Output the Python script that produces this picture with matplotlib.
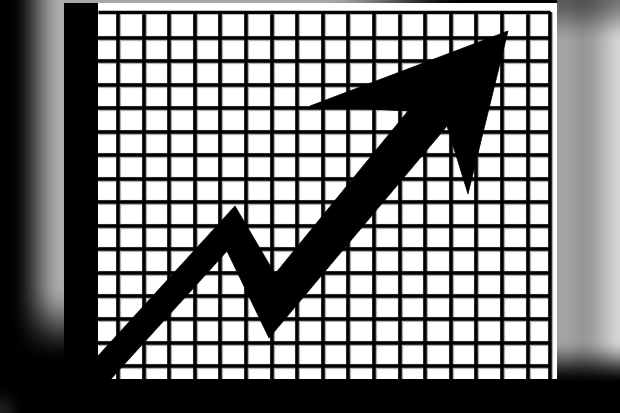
import numpy as np
import matplotlib
matplotlib.use("Agg")
import matplotlib.pyplot as plt
from matplotlib.patches import Rectangle, Polygon

# ---- data (pixel space, y downward) ----
grid_x = [118, 144, 169, 195, 220, 246, 272, 297, 323, 348, 374, 400, 425, 451, 476, 502, 528]
grid_y = [39, 62, 86, 109, 133, 156, 180, 203, 227, 250, 274, 297, 320, 344, 367]
border_right_x = 550
border_top_y = 13

# zigzag arrow outline
arrow_x = [98, 235, 275, 408, 310, 508, 468, 447, 269, 227, 110, 98]
arrow_y = [357, 207, 275, 112, 107, 32, 195, 127, 339, 252, 381, 381]

W, H = 620, 414

def smoothstep(e0, e1, v):
    t = np.clip((v - e0) / (e1 - e0), 0, 1)
    return t * t * (3 - 2 * t)

# ---- blurred photographic background ----
X, Y = np.meshgrid(np.arange(W) + 0.5, np.arange(H) + 0.5)
left = 0.67 * smoothstep(8, 62, X) ** 1.1 * (1 - smoothstep(285, 365, Y))
left += 0.12 * (1 - smoothstep(0, 25, X)) * smoothstep(385, 414, Y)
right = 0.64 + 0.20 * smoothstep(590, 622, X) - 0.05 * np.exp(-((X - 582) / 10) ** 2)
right *= 0.55 + 0.45 * smoothstep(0, 45, Y)
right *= 1 - smoothstep(340, 386, Y)
top = 0.66 * (1 - smoothstep(320, 470, X))
bg = np.where(X < 64, left, np.where(X > 557, right, top))

fig = plt.figure(figsize=(6.2, 4.14), dpi=100)
ax = fig.add_axes([0, 0, 1, 1])
ax.imshow(bg, cmap="gray", vmin=0, vmax=1, extent=(0, W, H, 0),
          interpolation="bilinear", zorder=0)
ax.set_xlim(0, W)
ax.set_ylim(H, 0)
ax.axis("off")

px = 0.72  # points per pixel at 100 dpi

# white panel
ax.add_patch(Rectangle((64, 3.5), 557 - 64, 380 - 3.5, facecolor="white",
                       edgecolor="none", zorder=1))

# grid with soft halo
for lw, col, z in [(5.2, "#b0b0b0", 2), (3.5, "black", 3)]:
    ax.vlines(grid_x, border_top_y, 380, colors=col, linewidth=lw * px, zorder=z)
    ax.hlines(grid_y, 98, border_right_x, colors=col, linewidth=lw * px, zorder=z)
    ax.vlines([border_right_x], border_top_y, 380, colors=col, linewidth=lw * px, zorder=z)
    ax.hlines([border_top_y], 98, border_right_x, colors=col, linewidth=(lw - 0.6) * px, zorder=z)

# heavy axes bars
ax.add_patch(Rectangle((64, 3.5), 34, H - 3.5, facecolor="black", edgecolor="none", zorder=4))
ax.add_patch(Rectangle((64, 380), 557 - 64, H - 380, facecolor="black", edgecolor="none", zorder=4))

# arrow
ax.add_patch(Polygon(np.column_stack([arrow_x, arrow_y]), closed=True,
                     facecolor="black", edgecolor="black", linewidth=0.5, zorder=5))

fig.savefig("out.png", dpi=100)
